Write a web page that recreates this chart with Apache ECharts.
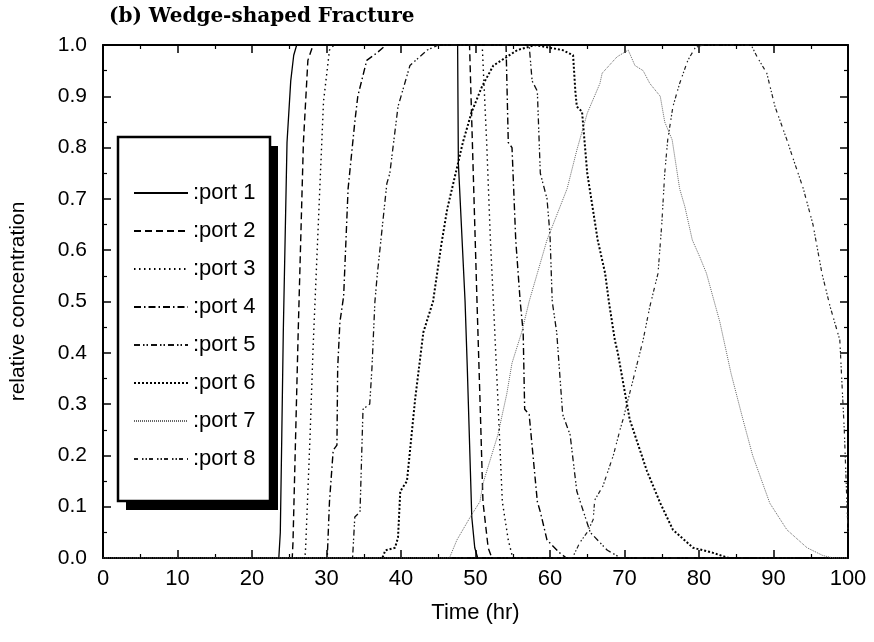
<!DOCTYPE html>
<html>
<head>
<meta charset="utf-8">
<script src="https://cdn.jsdelivr.net/npm/echarts@6/dist/echarts.min.js"></script>
<style>
  html, body { margin: 0; padding: 0; background: #fff; }
  #chart { width: 874px; height: 642px; }
</style>
</head>
<body>
<div id="chart"></div>
<script>
// [time (hr), relative concentration]
const port1 = [[0,0],[23.6,0],[23.8,0.05],[24,0.24],[24.2,0.44],[24.7,0.81],[25.2,0.93],[25.6,0.98],[26,1],[47.6,1],[47.7,0.77],[48.3,0.59],[48.6,0.5],[48.9,0.37],[49.5,0.08],[49.9,0.02],[50.3,0],[100,0]];
const port2 = [[0,0],[25.4,0],[25.5,0.03],[26.2,0.44],[26.9,0.81],[27.5,0.97],[28.2,1],[49.2,1],[49.7,0.75],[50.2,0.5],[50.6,0.31],[51,0.11],[51.7,0.02],[52.2,0],[100,0]];
const port3 = [[0,0],[27.1,0],[27.2,0.02],[27.8,0.24],[28.2,0.41],[29.1,0.72],[29.6,0.89],[30.4,0.99],[31,1],[50.9,1],[51.5,0.81],[52,0.62],[52.4,0.5],[53,0.31],[53.6,0.11],[54.4,0.035],[55,0],[100,0]];
const port4 = [[0,0],[30.1,0],[30.4,0.11],[30.9,0.21],[31.4,0.22],[31.5,0.37],[31.8,0.46],[32.3,0.51],[32.9,0.72],[33.8,0.85],[34.2,0.9],[35.4,0.97],[36.8,0.985],[38,1],[54.1,1],[54.4,0.81],[54.9,0.8],[55.4,0.62],[56,0.5],[56.4,0.44],[56.6,0.29],[57.2,0.28],[58.3,0.11],[58.7,0.09],[59.6,0.035],[61.3,0.01],[62.2,0],[100,0]];
const port5 = [[0,0],[33.5,0],[33.8,0.08],[34.5,0.09],[34.9,0.29],[35.8,0.3],[36.1,0.37],[36.5,0.5],[36.8,0.55],[38.1,0.73],[38.5,0.75],[39.6,0.88],[41.2,0.96],[43.5,0.99],[45,1],[57.2,1],[57.6,0.93],[58.3,0.91],[58.7,0.75],[59.6,0.7],[60,0.63],[60.3,0.5],[60.9,0.44],[61.7,0.28],[62.7,0.24],[63.6,0.13],[65.4,0.05],[67.7,0.015],[69.5,0],[100,0]];
const port6 = [[0,0],[37.5,0],[37.9,0.015],[39.2,0.02],[39.6,0.04],[39.9,0.13],[40.8,0.15],[41.9,0.31],[43,0.44],[44.3,0.5],[44.8,0.55],[45.4,0.61],[46.2,0.68],[47.5,0.76],[48.3,0.81],[49.5,0.87],[50.9,0.92],[52.4,0.96],[55.6,0.99],[58,1],[61.7,0.99],[63.1,0.98],[63.4,0.91],[63.6,0.88],[64.3,0.87],[65,0.75],[66.4,0.62],[67.4,0.555],[67.9,0.5],[68.7,0.425],[69.1,0.4],[70.7,0.27],[73,0.17],[74.8,0.107],[76.5,0.055],[79.2,0.02],[81.9,0.01],[84,0],[100,0]];
const port7 = [[0,0],[46.5,0],[47.5,0.035],[49.3,0.08],[50.6,0.11],[51,0.145],[53,0.24],[54.2,0.32],[54.9,0.38],[56.2,0.44],[57.2,0.5],[58.3,0.555],[59.6,0.62],[62.3,0.72],[63.6,0.795],[65,0.867],[66.7,0.925],[67,0.945],[69,0.977],[70.5,0.99],[71.4,0.96],[72.5,0.95],[73.4,0.925],[74.8,0.9],[75.4,0.85],[76.4,0.815],[77.4,0.72],[78.1,0.685],[79.1,0.62],[80.1,0.587],[81,0.555],[82.8,0.46],[84.3,0.36],[85.9,0.27],[87.2,0.2],[89.5,0.107],[91.8,0.055],[94.5,0.02],[96.6,0.005],[98,0],[100,0]];
const port8 = [[0,0],[63,0],[64,0.03],[65,0.05],[65.8,0.075],[66,0.113],[67.1,0.14],[67.8,0.17],[68.5,0.2],[69.4,0.25],[69.8,0.27],[71.2,0.35],[72.5,0.425],[73.4,0.49],[74.5,0.555],[75,0.65],[75.4,0.75],[75.8,0.815],[76.5,0.88],[77.4,0.925],[78.5,0.97],[79.5,0.995],[80.5,1],[87,1],[87.8,0.977],[89.1,0.945],[90.2,0.88],[91.8,0.815],[92.6,0.78],[94,0.72],[95.3,0.65],[96.5,0.555],[97.6,0.49],[98.9,0.425],[99.5,0.25],[100,0.05]];

const portNames = ["port 1", "port 2", "port 3", "port 4", "port 5", "port 6", "port 7", "port 8"];
const portData = [port1, port2, port3, port4, port5, port6, port7, port8];

// line look per port, in the same order
const dashes = [
    "solid",
    [7, 4],
    [1.5, 3.5],
    [7, 3, 1.5, 3],
    [6, 3, 1.5, 2, 1.5, 3],
    [2, 2],
    [1, 1],
    [4, 4, 1.5, 2, 1.5, 2]
];
const widths = [1.3, 1.4, 1.4, 1.4, 1.3, 2, 1, 1.2];
const colors = ["#000", "#000", "#000", "#000", "#111", "#000", "#666", "#222"];

const FONT = "Liberation Sans";

const chart = echarts.init(document.getElementById("chart"));

const series = portNames.map((name, i) => ({
    name: name,
    type: "line",
    data: portData[i],
    symbol: "none",
    showSymbol: false,
    smooth: false,
    animation: false,
    color: colors[i],
    lineStyle: { color: colors[i], width: widths[i], type: dashes[i] },
    xAxisIndex: 0,
    yAxisIndex: 0
}));

const baseTick = {
    axisLine: { show: true, onZero: false, lineStyle: { color: "#000", width: 2 } },
    axisTick: { show: true, inside: true, length: 8, lineStyle: { color: "#000", width: 1.5 } },
    minorTick: { show: true, splitNumber: 2, length: 4, lineStyle: { color: "#000", width: 1.2 } },
    splitLine: { show: false }
};

chart.setOption({
    animation: false,
    backgroundColor: "#fff",
    title: {
        text: "(b) Wedge-shaped Fracture",
        left: 104,
        top: 2,
        textStyle: { fontFamily: "DejaVu Serif", fontWeight: "bold", fontSize: 20, color: "#000" }
    },
    grid: { left: 103, right: 26, top: 45, bottom: 84 },
    // legend frame with its hard black drop shadow
    graphic: [
        { type: "rect", z: 1, shape: { x: 126, y: 146, width: 152, height: 364 }, style: { fill: "#000" } },
        { type: "rect", z: 2, shape: { x: 118, y: 137, width: 152, height: 364 }, style: { fill: "#fff", stroke: "#000", lineWidth: 2.5 } }
    ],
    legend: {
        orient: "vertical",
        left: 119,
        top: 136,
        z: 10,
        padding: [46, 14, 38, 14],
        itemWidth: 54,
        itemHeight: 20,
        itemGap: 16,
        itemStyle: { opacity: 0 },
        formatter: ":{name}",
        textStyle: { fontFamily: FONT, fontSize: 22, lineHeight: 22, color: "#000" },
        data: portNames
    },
    xAxis: [
        Object.assign({
            type: "value",
            min: 0,
            max: 100,
            interval: 10,
            position: "bottom",
            name: "Time (hr)",
            nameLocation: "middle",
            nameGap: 44,
            nameTextStyle: { fontFamily: FONT, fontSize: 22, color: "#000" },
            axisLabel: { fontFamily: FONT, fontSize: 22, color: "#000", margin: 10 }
        }, baseTick),
        Object.assign({
            type: "value",
            min: 0,
            max: 100,
            interval: 10,
            position: "top",
            axisLabel: { show: false }
        }, baseTick)
    ],
    yAxis: [
        Object.assign({
            type: "value",
            min: 0,
            max: 1,
            interval: 0.1,
            position: "left",
            name: "relative concentration",
            nameLocation: "middle",
            nameGap: 74,
            nameTextStyle: { fontFamily: FONT, fontSize: 21, color: "#000" },
            axisLabel: {
                fontFamily: FONT, fontSize: 21, color: "#000", margin: 16,
                formatter: v => v.toFixed(1)
            }
        }, baseTick),
        Object.assign({
            type: "value",
            min: 0,
            max: 1,
            interval: 0.1,
            position: "right",
            axisLabel: { show: false }
        }, baseTick)
    ],
    series: series
});
</script>
</body>
</html>
